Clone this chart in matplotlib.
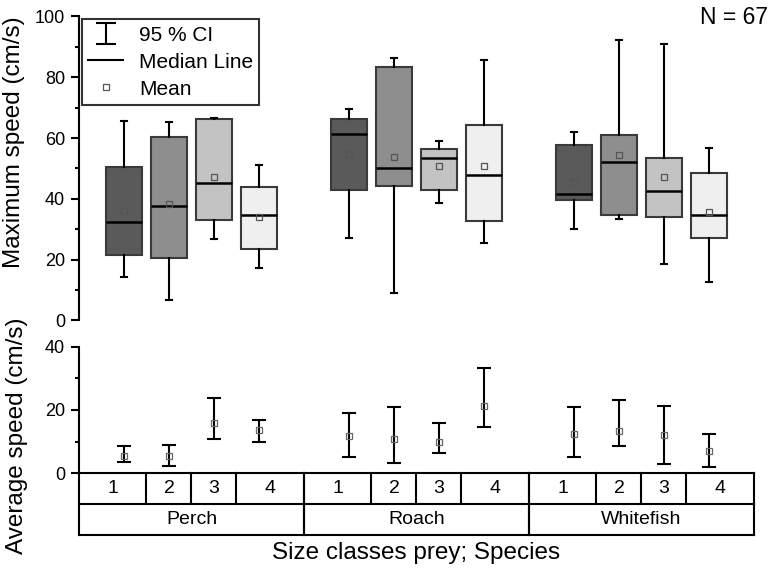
import numpy as np
import matplotlib
matplotlib.use('Agg')
import matplotlib.pyplot as plt
from matplotlib.lines import Line2D

plt.rcParams['font.family'] = ['Liberation Sans', 'DejaVu Sans']

species = ['Perch', 'Roach', 'Whitefish']
size_classes = ['1', '2', '3', '4']

# Maximum speed (cm/s) box statistics; order: Perch 1-4, Roach 1-4, Whitefish 1-4
max_whislo = [14.2, 6.6, 26.7, 17.2, 27.0, 9.0, 38.6, 25.5, 30.2, 33.4, 18.6, 12.8]
max_q1 = [21.7, 20.4, 33.0, 23.4, 43.0, 44.1, 42.8, 32.8, 39.6, 34.6, 34.1, 27.2]
max_med = [32.3, 37.7, 45.2, 34.7, 61.2, 50.1, 53.6, 47.9, 41.6, 52.0, 42.5, 34.8]
max_q3 = [50.4, 60.4, 66.3, 43.9, 66.4, 83.3, 56.3, 64.4, 57.7, 61.1, 53.3, 48.5]
max_whishi = [65.6, 65.3, 66.6, 51.2, 69.6, 86.2, 59.2, 85.7, 62.1, 92.4, 91.1, 56.8]
max_mean = [36.1, 38.2, 47.3, 34.1, 54.8, 53.8, 50.9, 50.9, 45.6, 54.3, 47.2, 35.8]

# Average speed (cm/s): mean and 95 % CI
avg_mean = [5.4, 5.4, 15.9, 13.6, 11.9, 10.9, 9.7, 21.4, 12.4, 13.4, 12.1, 7.0]
avg_lo = [3.5, 2.2, 10.8, 10.0, 5.0, 3.3, 6.4, 14.7, 5.1, 8.5, 3.0, 2.0]
avg_hi = [8.6, 8.8, 23.9, 16.7, 19.2, 21.0, 15.8, 33.2, 20.9, 23.2, 21.2, 12.5]

n_label = 'N = 67'

fills = ['#5a5a5a', '#8e8e8e', '#c3c3c3', '#efefef']

ng, nk = len(species), len(size_classes)
group_w = nk + 1
positions = [1 + group_w * g + k for g in range(ng) for k in range(nk)]
xmax = group_w * ng

fig = plt.figure(figsize=(7.76, 5.76), dpi=100)
L, W = 0.1018, 0.8698
ax1 = fig.add_axes([L, 0.4436, W, 0.5278])
ax2 = fig.add_axes([L, 0.1788, W, 0.2188])
ax3 = fig.add_axes([L, 0.0712, W, 0.1076])

LW = 1.5
for ax in (ax1, ax2):
    for s in ('top', 'right', 'bottom'):
        ax.spines[s].set_visible(False)
    ax.spines['left'].set_linewidth(LW)
    ax.tick_params(axis='y', which='major', direction='out', length=6, width=LW,
                   labelsize=13, pad=4)
    ax.tick_params(axis='y', which='minor', direction='out', length=3, width=LW)

# --- top: box plot
stats = []
for i in range(len(positions)):
    stats.append(dict(med=max_med[i], q1=max_q1[i], q3=max_q3[i],
                      whislo=max_whislo[i], whishi=max_whishi[i],
                      mean=max_mean[i], fliers=[]))
bp = ax1.bxp(stats, positions=positions, widths=0.8, patch_artist=True,
             showmeans=True, showfliers=False, capwidths=0.15, manage_ticks=False,
             boxprops=dict(edgecolor='#3a3a3a', linewidth=1.5),
             medianprops=dict(color='black', linewidth=1.8),
             whiskerprops=dict(color='black', linewidth=1.5),
             capprops=dict(color='black', linewidth=1.5),
             meanprops=dict(marker='s', markerfacecolor='none',
                            markeredgecolor='#555555', markersize=5,
                            markeredgewidth=0.9))
for i, patch in enumerate(bp['boxes']):
    patch.set_facecolor(fills[i % nk])
ax1.set_ylim(0, 100)
ax1.set_yticks([0, 20, 40, 60, 80, 100])
ax1.set_yticks([10, 30, 50, 70, 90], minor=True)
ax1.set_ylabel('Maximum speed (cm/s)', fontsize=17.5)
ax1.yaxis.set_label_coords(-0.080, 0.587)

# legend
eb_handle = ax1.errorbar([np.nan], [np.nan], yerr=[[1], [1]], fmt='none',
                         ecolor='black', elinewidth=1.5, capsize=7, capthick=1.5)
med_handle = Line2D([], [], color='black', linewidth=1.5)
mean_handle = Line2D([], [], linestyle='none', marker='s', markerfacecolor='none',
                     markeredgecolor='#555555', markersize=5, markeredgewidth=0.9)
leg = ax1.legend([eb_handle, med_handle, mean_handle],
                 ['95 % CI', 'Median Line', 'Mean'],
                 loc='upper left', bbox_to_anchor=(0.004, 0.991), borderaxespad=0,
                 fontsize=15, frameon=True, fancybox=False, handlelength=1.7,
                 handletextpad=0.75, labelspacing=0.34, borderpad=0.3,
                 handleheight=0.9)
leg.get_frame().set_edgecolor('black')
leg.get_frame().set_linewidth(1.5)

# --- bottom: mean with CI
yerr = [np.array(avg_mean) - np.array(avg_lo), np.array(avg_hi) - np.array(avg_mean)]
ax2.errorbar(positions, avg_mean, yerr=yerr, fmt='none', ecolor='black',
             elinewidth=1.5, capsize=5, capthick=1.5)
ax2.plot(positions, avg_mean, linestyle='none', marker='s', markerfacecolor='none',
         markeredgecolor='#666666', markersize=5, markeredgewidth=0.9)
ax2.set_ylim(0, 40)
ax2.set_yticks([0, 20, 40])
ax2.set_yticks([10, 30], minor=True)
ax2.set_ylabel('Average speed (cm/s)', fontsize=17.5)
ax2.yaxis.set_label_coords(-0.0756, 0.298)

for ax in (ax1, ax2):
    ax.set_xlim(0, xmax)
    ax.set_xticks([])

# --- category table
ax3.set_xlim(0, xmax)
ax3.set_ylim(0, 2)
ax3.axis('off')
kw = dict(color='black', linewidth=LW, clip_on=False)
for yy in (0, 1, 2):
    ax3.plot([0, xmax], [yy, yy], **kw)
for g in range(ng):
    gpos = positions[g * nk:(g + 1) * nk]
    edges = [group_w * g] + [(gpos[j] + gpos[j + 1]) / 2 for j in range(nk - 1)] + [group_w * (g + 1)]
    for e in edges[1:-1]:
        ax3.plot([e, e], [1, 2], **kw)
    for j in range(nk):
        ax3.text((edges[j] + edges[j + 1]) / 2, 1.5, size_classes[j],
                 ha='center', va='center', fontsize=14)
    ax3.text((edges[0] + edges[-1]) / 2, 0.5, species[g], ha='center', va='center',
             fontsize=14)
    for e in (edges[0], edges[-1]):
        ax3.plot([e, e], [0, 2], **kw)

fig.text((0.1018 + 0.9716) / 2, 0.040, 'Size classes prey; Species', ha='center',
         va='center', fontsize=17.5)
fig.text(0.9897, 0.9688, n_label, ha='right', va='center', fontsize=16.5)

fig.savefig('out.png', dpi=100)
